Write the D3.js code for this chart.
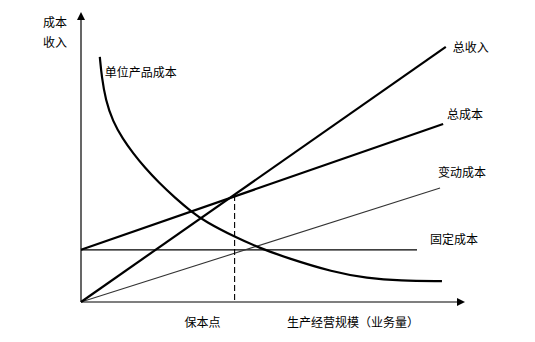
<!DOCTYPE html>
<html>
<head>
<meta charset="utf-8">
<script src="https://cdn.jsdelivr.net/npm/d3@7"></script>
<style>
  body { margin: 0; background: #fff; }
  text { font-family: "Noto Sans CJK SC", sans-serif; font-size: 12px; fill: #000; }
</style>
</head>
<body>
<div id="wrapper"></div>
<script>
// Data (chart units, x: 0-100 volume, y: 0-100 amount)
const revenue = [[0, 0], [95, 88]];
const totalCost = [[0, 18], [94.3, 61.4]];
const variableCost = [[0, 0], [93.5, 39.3]];
const fixedCost = [[0, 18], [87.5, 18]];
const unitCost = [
  [4.9, 84.5], [5.4, 77.6], [6.4, 69.7], [8.3, 62.2], [10.9, 56.2],
  [13.5, 51.4], [16.7, 46.2], [20.1, 41.4], [24.5, 35.9], [28.9, 31.0],
  [32.3, 27.8], [40.1, 22.4], [46.6, 18.6], [53.6, 15.2], [65.6, 10.3],
  [74.5, 8.2], [83.1, 7.3], [94.0, 7.2]
];
const breakEven = [40, 36.9];

const yLabels = ['成本', '收入'];
const xLabel = '生产经营规模（业务量）';
const breakEvenLabel = '保本点';

const width = 535;
const height = 342;

const xScale = d3.scaleLinear().domain([0, 100]).range([81, 465]);
const yScale = d3.scaleLinear().domain([0, 100]).range([302, 12]);

const svg = d3
  .select('#wrapper')
  .append('svg')
  .attr('width', width)
  .attr('height', height);

const line = d3.line().x((d) => xScale(d[0])).y((d) => yScale(d[1]));

// Axes with arrows
svg.append('line')
  .attr('x1', xScale(0)).attr('y1', yScale(0))
  .attr('x2', xScale(0)).attr('y2', yScale(100) + 4)
  .attr('stroke', '#000').attr('stroke-width', 1.2);
svg.append('path')
  .attr('d', `M${xScale(0)},${yScale(100)} l-4,8 l8,0 z`)
  .attr('fill', '#000');

svg.append('line')
  .attr('x1', xScale(0)).attr('y1', yScale(0))
  .attr('x2', xScale(100) - 4).attr('y2', yScale(0))
  .attr('stroke', '#000').attr('stroke-width', 1.2);
svg.append('path')
  .attr('d', `M${xScale(100)},${yScale(0)} l-8,-4 l0,8 z`)
  .attr('fill', '#000');

// Lines
const series = [
  { data: fixedCost, w: 1.2, color: '#000' },
  { data: variableCost, w: 1.1, color: '#333' },
  { data: totalCost, w: 2.2, color: '#000' },
  { data: revenue, w: 2.2, color: '#000' },
];
series.forEach((s) => {
  svg.append('path')
    .attr('d', line(s.data))
    .attr('fill', 'none')
    .attr('stroke', s.color)
    .attr('stroke-width', s.w);
});

// Unit cost curve, smoothed
svg.append('path')
  .attr('d', d3.line()
    .x((d) => xScale(d[0]))
    .y((d) => yScale(d[1]))
    .curve(d3.curveBasis)(unitCost))
  .attr('fill', 'none')
  .attr('stroke', '#000')
  .attr('stroke-width', 2.2);

// Break-even dashed line
svg.append('line')
  .attr('x1', xScale(breakEven[0])).attr('y1', yScale(breakEven[1]))
  .attr('x2', xScale(breakEven[0])).attr('y2', yScale(0))
  .attr('stroke', '#000')
  .attr('stroke-width', 1.1)
  .attr('stroke-dasharray', '6,3');

// Labels
svg.append('text').attr('x', 43).attr('y', 27).text(yLabels[0]);
svg.append('text').attr('x', 43).attr('y', 47).text(yLabels[1]);

const last = (a) => a[a.length - 1];
svg.append('text').attr('x', xScale(unitCost[0][0]) + 5).attr('y', 77).text('单位产品成本');
svg.append('text').attr('x', xScale(last(revenue)[0]) + 7).attr('y', yScale(last(revenue)[1]) + 5).text('总收入');
svg.append('text').attr('x', xScale(last(totalCost)[0]) + 4).attr('y', 119).text('总成本');
svg.append('text').attr('x', xScale(last(variableCost)[0]) - 2).attr('y', 177).text('变动成本');
svg.append('text').attr('x', xScale(last(fixedCost)[0]) + 13).attr('y', 244).text('固定成本');

svg.append('text').attr('x', xScale(breakEven[0]) - 50).attr('y', 327).text(breakEvenLabel);
svg.append('text').attr('x', 287).attr('y', 327).text(xLabel);
</script>
</body>
</html>
